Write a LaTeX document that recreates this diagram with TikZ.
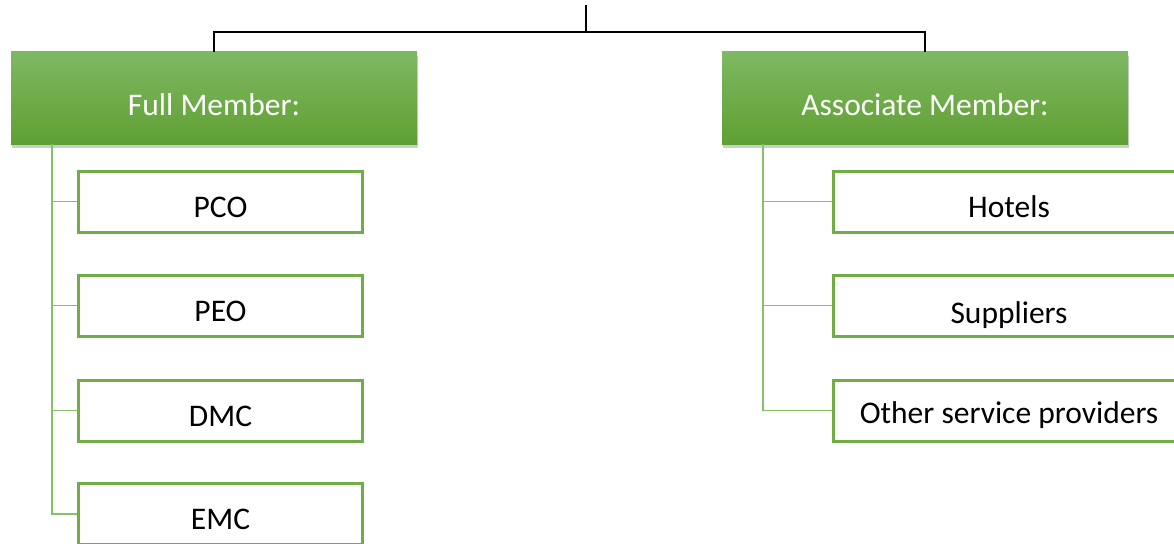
\documentclass[tikz,border=0pt]{standalone}
\usepackage{fontspec}
\setmainfont{Carlito}
\usetikzlibrary{shadows}

\definecolor{headtop}{HTML}{7FB862}
\definecolor{headbot}{HTML}{5FA033}
\definecolor{boxgreen}{HTML}{70AD47}
\definecolor{linkgreen}{HTML}{86C067}

\tikzset{
  head/.style={minimum width=406pt, minimum height=92pt, inner sep=0pt,
    top color=headtop, bottom color=headbot, text=white,
    font=\fontsize{31.5}{38}\selectfont, text height=34pt, text depth=0pt,
    drop shadow={opacity=0.4, shadow xshift=1pt, shadow yshift=-4pt}},
  member/.style={draw=boxgreen, line width=3pt, fill=white, inner sep=0pt,
    minimum height=61pt, font=\fontsize{31.5}{38}\selectfont,
    text height=31pt, text depth=0pt},
  link/.style={linkgreen, line width=1.8pt}
}

\begin{document}
\begin{tikzpicture}[x=1pt, y=-1pt]

\useasboundingbox (0,0) rectangle (1174,543);
\clip (0,0) rectangle (1174,543);

\node[head] (full) at (214,98) {Full Member:};
\node[head] (assoc) at (925,98) {Associate Member:};

\coordinate (top) at (586,5);
\coordinate (split) at (586,32);
\draw[line width=1.5pt] (top) -- (split);
\draw[line width=1.5pt] (full.north) |- (split) -| (assoc.north);

\node[member, minimum width=284pt] (pco) at (220.5,201.5) {PCO};
\node[member, minimum width=284pt] (peo) at (220.5,305.5) {PEO};
\node[member, minimum width=284pt] (dmc) at (220.5,410.5) {DMC};
\node[member, minimum width=284pt] (emc) at (220.5,514) {EMC};

\node[member, minimum width=352pt] (hotels) at (1009,201.5) {Hotels};
\node[member, minimum width=352pt, text height=35pt] (suppliers) at (1009,305.5) {Suppliers};
\node[member, minimum width=352pt, text height=25pt] (others) at (1009,410.5) {Other service providers};

\foreach \c in {pco,peo,dmc,emc}
  \draw[link] ([xshift=41pt]full.south west) |- (\c.west);
\foreach \c in {hotels,suppliers,others}
  \draw[link] ([xshift=41pt]assoc.south west) |- (\c.west);

\end{tikzpicture}
\end{document}
